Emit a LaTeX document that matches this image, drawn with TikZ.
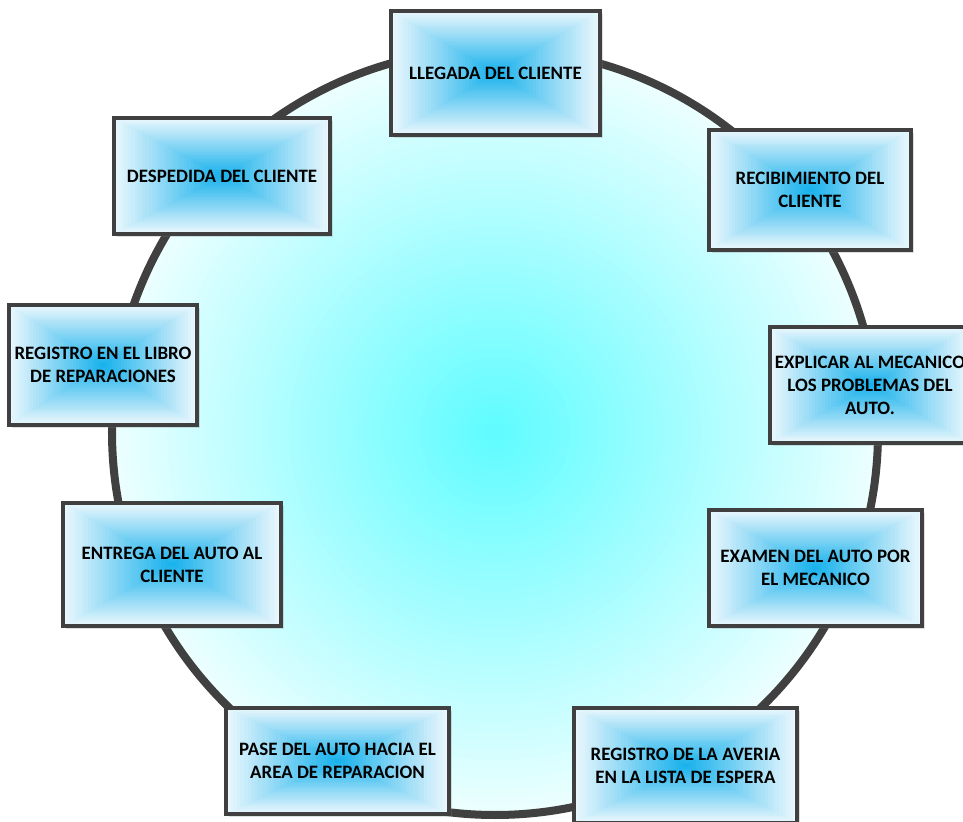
\documentclass[tikz,border=0pt]{standalone}
\usepackage{fontspec}
\setmainfont{Carlito}
\usetikzlibrary{shadows,calc}
\definecolor{ringline}{HTML}{404040}
\definecolor{boxcenter}{HTML}{1AB2EC}
\definecolor{boxedge}{HTML}{EAF7FD}
\definecolor{circin}{HTML}{60FCFF}
\definecolor{circout}{HTML}{ECFFFF}
\tikzset{
  stepbox/.style={
    draw=ringline, line width=3.5bp, inner sep=0pt, align=center,
    font=\bfseries\fontsize{19}{23}\selectfont,
    drop shadow={opacity=0.25, shadow xshift=3bp, shadow yshift=-3bp, fill=gray},
    path picture={
      \foreach \k in {0,...,30}{
        \pgfmathsetmacro{\f}{1-\k/31}
        \pgfmathsetmacro{\p}{100*\k/30}
        \fill[boxcenter!\p!boxedge]
          ($(path picture bounding box.center)!\f!(path picture bounding box.north west)$)
          rectangle
          ($(path picture bounding box.center)!\f!(path picture bounding box.south east)$);
      }
    }
  },
  ring/.style={circle, draw=ringline, line width=8bp, minimum size=766bp, inner sep=0pt,
    path picture={
      \foreach \k in {0,...,40}{
        \pgfmathsetmacro{\f}{1-\k/41}
        \pgfmathsetmacro{\p}{100*\k/40}
        \fill[circin!\p!circout] (path picture bounding box.center) circle[radius=\f*384bp];
      }
    }}
}
\begin{document}
\begin{tikzpicture}[x=1bp,y=1bp]
\useasboundingbox (0,0) rectangle (963,822);
\fill[white] (0,0) rectangle (963,822);
\node[ring] (ring) at (495,390) {};
\node[stepbox, minimum width=209bp, minimum height=124bp] (b1) at (495.5,749) {LLEGADA DEL CLIENTE};
\node[stepbox, minimum width=202bp, minimum height=120bp] (b2) at (810,632) {RECIBIMIENTO DEL\\CLIENTE};
\node[stepbox, minimum width=200bp, minimum height=116bp] (b3) at (870,437) {EXPLICAR AL MECANICO\\LOS PROBLEMAS DEL\\AUTO.};
\node[stepbox, minimum width=213bp, minimum height=116bp] (b4) at (815.5,254) {EXAMEN DEL AUTO POR\\EL MECANICO};
\node[stepbox, minimum width=223bp, minimum height=115bp] (b5) at (685.5,56.5) {REGISTRO DE LA AVERIA\\EN LA LISTA DE ESPERA};
\node[stepbox, minimum width=223bp, minimum height=106bp] (b6) at (337.5,61) {PASE DEL AUTO HACIA EL\\AREA DE REPARACION};
\node[stepbox, minimum width=218bp, minimum height=123bp] (b7) at (172,257.5) {ENTREGA DEL AUTO AL\\CLIENTE};
\node[stepbox, minimum width=188bp, minimum height=120bp] (b8) at (103,457) {REGISTRO EN EL LIBRO\\DE REPARACIONES};
\node[stepbox, minimum width=216bp, minimum height=116bp] (b9) at (222,646) {DESPEDIDA DEL CLIENTE};
\end{tikzpicture}
\end{document}
